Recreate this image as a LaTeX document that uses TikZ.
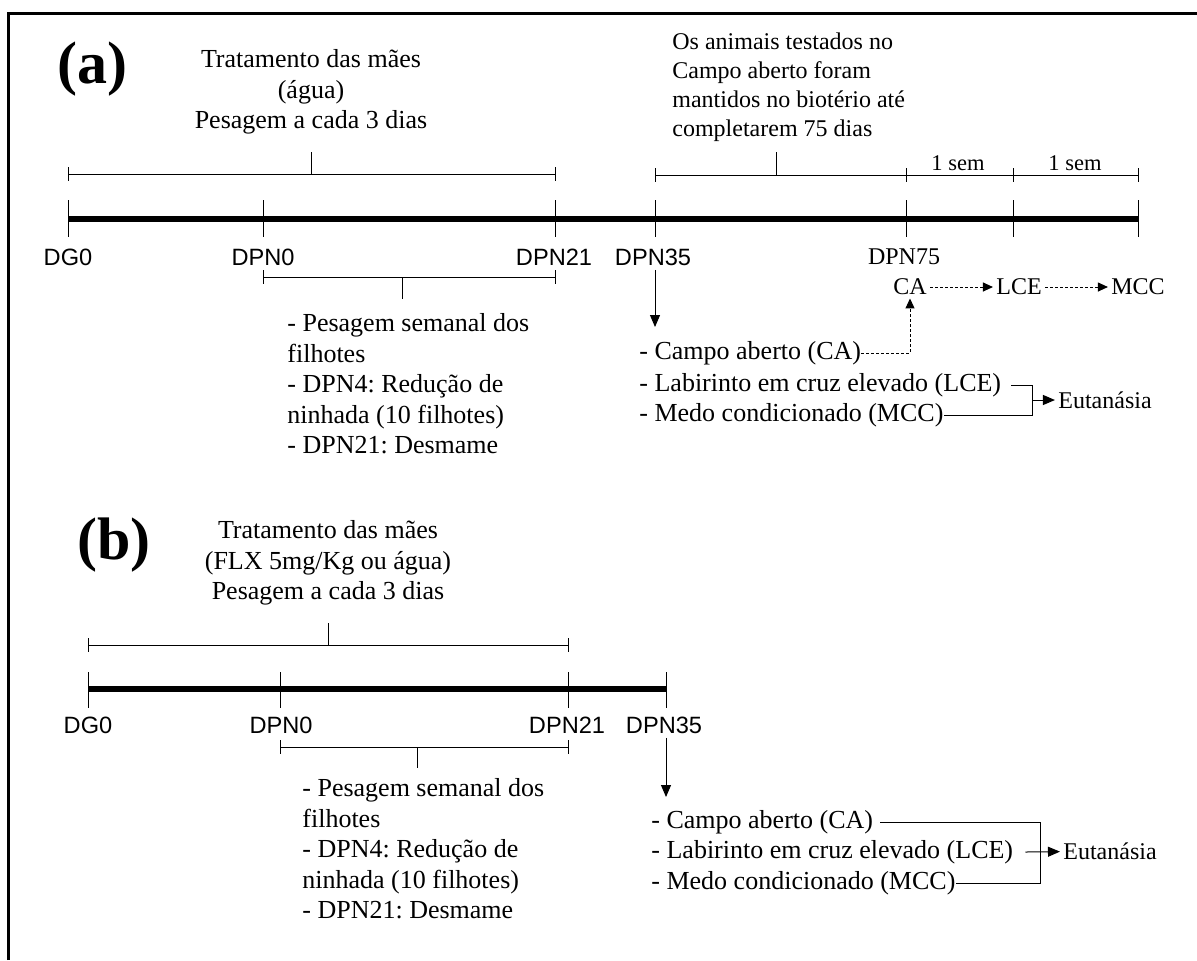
\documentclass[tikz,border=0pt]{standalone}
\usepackage{fontspec}
\setmainfont{Liberation Serif}
\setsansfont{Liberation Sans}
\usetikzlibrary{arrows.meta}
\frenchspacing

\begin{document}
\begin{tikzpicture}[x=0.5pt,y=-0.5pt,
  fino/.style={line width=0.5pt},
  eixo/.style={line width=3pt},
  rotulo/.style={font=\sffamily\fontsize{11.8}{14}\selectfont,inner sep=2pt},
  texto/.style={font=\fontsize{13}{15.25}\selectfont,inner sep=0pt},
  pequeno/.style={font=\fontsize{11.25}{14}\selectfont,inner sep=1.5pt},
  letra/.style={font=\bfseries\fontsize{30}{36}\selectfont,inner sep=0pt},
  seta/.style={fino,-{Triangle[length=6pt,width=5pt]}},
  tracejada/.style={fino,dash pattern=on 1.5pt off 1pt,-{Triangle[length=5pt,width=4.5pt]}}]
  \useasboundingbox (0,0) rectangle (1197,960);
  \draw[line width=1.5pt] (8,960) -- (8,13) -- (1197,13);

  % (a)
  \node[letra] (a) at (92,69) {(a)};
  \foreach \n/\x in {dg0/68,dpn0/263,dpn21/555,dpn35/655,dpn75/906,s1/1013,fim/1138}
    \coordinate (a-\n) at (\x,219);
  \draw[eixo] (a-dg0) -- (a-fim);
  \foreach \n in {dg0,dpn0,dpn21,dpn35,dpn75,s1,fim}
    \draw[fino] (a-\n) ++(0,-19) -- ++(0,37);
  \node[rotulo] (la-dg0) at (68,257) {DG0};
  \node[rotulo] (la-dpn0) at (263,257) {DPN0};
  \node[rotulo] (la-dpn21) at (554,257) {DPN21};
  \node[rotulo] (la-dpn35) at (653,257) {DPN35};
  \node[pequeno,font=\fontsize{12}{14}\selectfont] (la-dpn75) at (904,257) {DPN75};

  \draw[fino] (68,174) -- (555,174) (311,174) -- (311,152);
  \foreach \x in {68,555} \draw[fino] (\x,167) -- (\x,181);
  \node[texto,align=center] (trat-a) at (311,92) {Tratamento das mães\\(água)\\Pesagem a cada 3 dias};

  \draw[fino] (655,175) -- (1138,175) (776,175) -- (776,152);
  \foreach \x in {655,906,1013,1138} \draw[fino] (\x,168) -- (\x,182);
  \node[texto,font=\fontsize{12}{14.5}\selectfont,align=left,anchor=west] (obs) at (672,87)
    {Os animais testados no\\Campo aberto foram\\mantidos no biotério até\\completarem 75 dias};
  \node[pequeno] (sem1) at (958,163) {1 sem};
  \node[pequeno] (sem2) at (1075,163) {1 sem};

  \draw[fino] (263,277) -- (555,277) (402,277) -- (402,299);
  \foreach \x in {263,555} \draw[fino] (\x,270) -- (\x,284);
  \node[texto,align=left,anchor=west] (fil-a) at (287,384)
    {- Pesagem semanal dos\\filhotes\\- DPN4: Redução de\\ninhada (10 filhotes)\\- DPN21: Desmame};

  \node[texto,anchor=west] (ca-a) at (639,353) {- Campo aberto (CA)};
  \node[texto,anchor=west] (lce-a) at (639,385) {- Labirinto em cruz elevado (LCE)};
  \node[texto,anchor=west] (mcc-a) at (639,415) {- Medo condicionado (MCC)};
  \coordinate (p-a) at (655,327);
  \draw[seta] (p-a |- la-dpn35.south) -- (p-a);

  \node[pequeno,font=\fontsize{12}{14}\selectfont] (ca) at (910,287) {CA};
  \node[pequeno,font=\fontsize{12}{14}\selectfont] (lce) at (1019,287) {LCE};
  \node[pequeno,font=\fontsize{12}{14}\selectfont] (mcc) at (1138,287) {MCC};
  \draw[tracejada] (ca) -- (lce);
  \draw[tracejada] (lce) -- (mcc);
  \draw[tracejada] (ca-a.east) -| (ca.south);

  \node[pequeno,font=\fontsize{12}{14}\selectfont] (eut-a) at (1105,400) {Eutanásia};
  \coordinate (j-a) at (1032,400);
  \draw[fino] ([xshift=5pt]lce-a.east) -| (j-a) |- (mcc-a.east);
  \draw[seta] (j-a) -- (eut-a);

  % (b)
  \node[letra] (b) at (114,545) {(b)};
  \foreach \n/\x in {dg0/88,dpn0/280,dpn21/568,dpn35/666}
    \coordinate (b-\n) at (\x,689);
  \draw[eixo] (b-dg0) -- (b-dpn35);
  \foreach \n in {dg0,dpn0,dpn21,dpn35}
    \draw[fino] (b-\n) ++(0,-17) -- ++(0,36);
  \node[rotulo] (lb-dg0) at (88,725) {DG0};
  \node[rotulo] (lb-dpn0) at (281,725) {DPN0};
  \node[rotulo] (lb-dpn21) at (567,725) {DPN21};
  \node[rotulo] (lb-dpn35) at (664,725) {DPN35};

  \draw[fino] (88,645) -- (568,645) (328,645) -- (328,623);
  \foreach \x in {88,568} \draw[fino] (\x,638) -- (\x,652);
  \node[texto,align=center] (trat-b) at (328,563) {Tratamento das mães\\(FLX 5mg/Kg ou água)\\Pesagem a cada 3 dias};

  \draw[fino] (280,747) -- (568,747) (417,747) -- (417,768);
  \foreach \x in {280,568} \draw[fino] (\x,740) -- (\x,754);
  \node[texto,align=left,anchor=west] (fil-b) at (302,849)
    {- Pesagem semanal dos\\filhotes\\- DPN4: Redução de\\ninhada (10 filhotes)\\- DPN21: Desmame};

  \node[texto,anchor=west] (ca-b) at (651,822) {- Campo aberto (CA)};
  \node[texto,anchor=west] (lce-b) at (651,852) {- Labirinto em cruz elevado (LCE)};
  \node[texto,anchor=west] (mcc-b) at (651,883) {- Medo condicionado (MCC)};
  \coordinate (p-b) at (666,797);
  \draw[seta] (p-b |- lb-dpn35.south) -- (p-b);

  \node[pequeno,font=\fontsize{12}{14}\selectfont] (eut-b) at (1110,851) {Eutanásia};
  \coordinate (j-b) at (1040,851);
  \draw[fino] ([xshift=3.5pt]ca-b.east) -| (j-b) |- (mcc-b.east);
  \draw[seta] ([xshift=6pt]lce-b.east) -- (eut-b);
\end{tikzpicture}
\end{document}
